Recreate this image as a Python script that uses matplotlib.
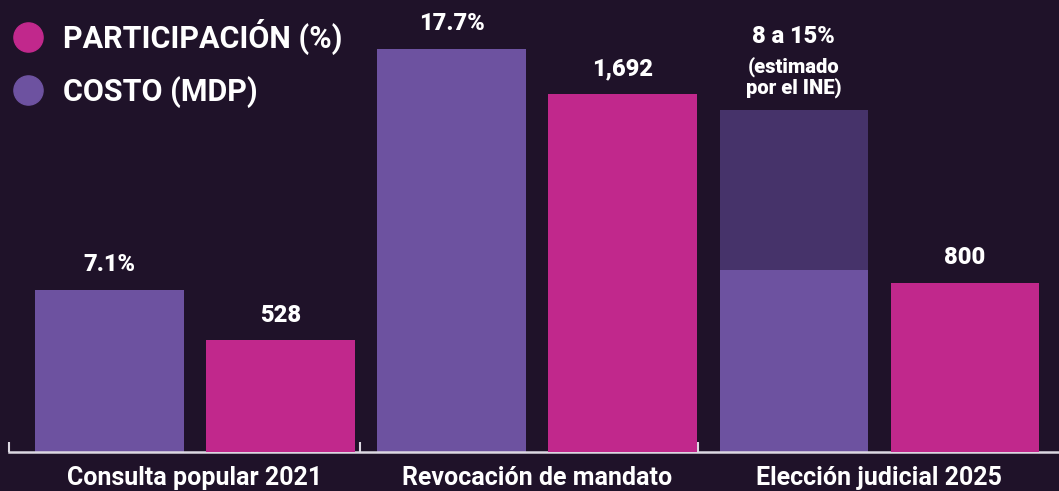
import matplotlib.pyplot as plt
from matplotlib.lines import Line2D

# Datos
categorias = ["Consulta popular 2021", "Revocación de mandato", "Elección judicial 2025"]
participacion = [7.1, 17.7, 8.0]          # %
participacion_max = [None, None, 15.0]    # estimado INE (rango)
etiquetas_part = ["7.1%", "17.7%", "8 a 15%"]
costo = [528, 1692, 800]                  # MDP
etiquetas_costo = ["528", "1,692", "800"]

fondo = "#1f1229"
morado = "#6d52a0"
morado_osc = "#46336a"
magenta = "#c1288c"
blanco = "#ffffff"

plt.rcParams['font.family'] = ['Roboto', 'DejaVu Sans']

fig = plt.figure(figsize=(10.59, 4.91), dpi=100, facecolor=fondo)
ax = fig.add_axes([0, 39 / 491, 1, 452 / 491])
ax.set_facecolor(fondo)
ax2 = ax.twinx()

x = range(len(categorias))
ancho = 0.433
desp = 0.25

xp = [i - desp for i in x]
xc = [i + desp for i in x]

ax.bar(xp, participacion, width=ancho, color=morado, zorder=2)
for i, pmax in enumerate(participacion_max):
    if pmax is not None:
        ax.bar(xp[i], pmax - participacion[i], bottom=participacion[i],
               width=ancho, color=morado_osc, zorder=2)
ax2.bar(xc, costo, width=ancho, color=magenta, zorder=2)

ax.set_xlim(-0.570, 2.526)
ax.set_ylim(0, 19.83)
ax2.set_ylim(0, 2139)

# etiquetas de valores
peso = "black"
for i in x:
    tope = participacion_max[i] if participacion_max[i] is not None else participacion[i]
    if participacion_max[i] is not None:
        ax.annotate("(estimado\npor el INE)", (xp[i], tope), xytext=(0, 9),
                    textcoords="offset points", ha="center", va="bottom",
                    color=blanco, fontsize=14.5, fontweight=peso, linespacing=1.0)
        ax.annotate(etiquetas_part[i], (xp[i], tope), xytext=(0, 45),
                    textcoords="offset points", ha="center", va="bottom",
                    color=blanco, fontsize=17, fontweight=peso)
    else:
        ax.annotate(etiquetas_part[i], (xp[i], tope), xytext=(0, 10),
                    textcoords="offset points", ha="center", va="bottom",
                    color=blanco, fontsize=17, fontweight=peso)
    ax2.annotate(etiquetas_costo[i], (xc[i], costo[i]), xytext=(0, 10),
                 textcoords="offset points", ha="center", va="bottom",
                 color=blanco, fontsize=17, fontweight=peso)

# ejes
for s in ["top", "left", "right"]:
    ax.spines[s].set_visible(False)
    ax2.spines[s].set_visible(False)
ax2.spines["bottom"].set_visible(False)
ax.spines["bottom"].set_color("#dcd8e2")
ax.spines["bottom"].set_linewidth(1.8)
ax.spines["bottom"].set_bounds(-0.545, 2.526)
ax.set_yticks([])
ax2.set_yticks([])

ax.set_xticks([-0.545, 0.482, 1.47])
ax.set_xticklabels([])
ax.tick_params(axis="x", which="major", direction="in", length=7, width=1.5, color="#dcd8e2")
ax.set_xticks(list(x), minor=True)
ax.set_xticklabels(categorias, minor=True)
ax.tick_params(axis="x", which="minor", length=0, pad=10, labelsize=18, labelcolor=blanco)
for t in ax.get_xticklabels(minor=True):
    t.set_fontweight("bold")

# leyenda
handles = [
    Line2D([], [], marker="o", linestyle="", markersize=21, color=magenta, label="PARTICIPACIÓN (%)"),
    Line2D([], [], marker="o", linestyle="", markersize=21, color=morado, label="COSTO (MDP)"),
]
leg = ax2.legend(handles=handles, loc="upper left", bbox_to_anchor=(-0.011, 1.005),
                 frameon=False, fontsize=22, labelspacing=0.68, handletextpad=0.55,
                 handlelength=1.2, borderaxespad=0.3)
for t in leg.get_texts():
    t.set_color(blanco)
    t.set_fontweight("bold")

fig.savefig("out.png", dpi=100, facecolor=fondo)
